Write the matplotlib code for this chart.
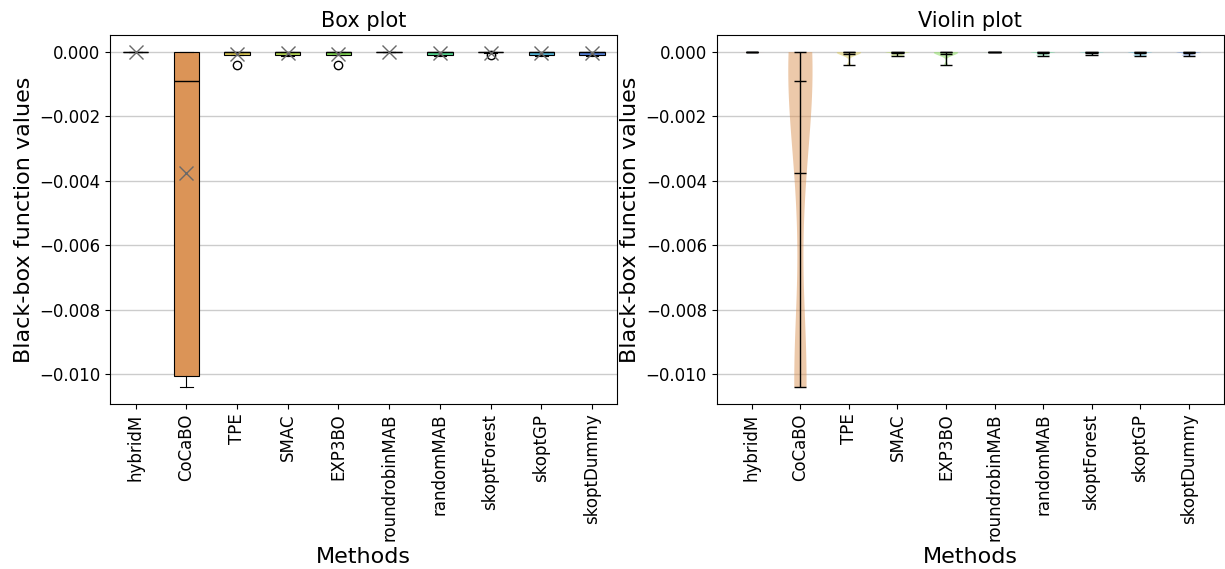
import matplotlib
matplotlib.use("Agg")
import matplotlib.pyplot as plt
import seaborn as sns

methods = ["hybridM", "CoCaBO", "TPE", "SMAC", "EXP3BO", "roundrobinMAB",
           "randomMAB", "skoptForest", "skoptGP", "skoptDummy"]

# black-box values per method
hybridM = [0.0, -0.000001, -0.000002, 0.0, -0.000001, -0.000003, -0.000001, -0.000002]
CoCaBO = [-0.0104, -0.0103, -0.0102, -0.01005, -0.0038, -0.00247, -0.0009,
          -0.0004, -0.0001, 0.0, 0.0, 0.0, 0.0]
TPE = [0.0, 0.0, 0.0, 0.0, 0.0, -0.00004, -0.0001, -0.0001, -0.0004]
SMAC = [0.0, 0.0, 0.0, 0.0, 0.0, -0.00005, -0.0001, -0.0001, -0.00012]
EXP3BO = [0.0, 0.0, 0.0, 0.0, 0.0, -0.00005, -0.0001, -0.0001, -0.0004]
roundrobinMAB = [0.0, -0.000002, -0.000001, -0.000003, 0.0, -0.000002, -0.000001, -0.000004]
randomMAB = [0.0, 0.0, 0.0, 0.0, 0.0, -0.00004, -0.0001, -0.0001, -0.00011]
skoptForest = [0.0, 0.0, 0.0, 0.0, 0.0, -0.000005, -0.00001, -0.00002, -0.0001]
skoptGP = [0.0, 0.0, 0.0, 0.0, 0.0, -0.00005, -0.0001, -0.0001, -0.00012]
skoptDummy = [0.0, 0.0, 0.0, 0.0, 0.0, -0.00004, -0.0001, -0.0001, -0.00011]

data = [hybridM, CoCaBO, TPE, SMAC, EXP3BO, roundrobinMAB,
        randomMAB, skoptForest, skoptGP, skoptDummy]

colors = sns.color_palette("hls", 15)[:len(methods)]

fig, (ax1, ax2) = plt.subplots(1, 2, figsize=(12.25, 5.69), dpi=100)
fig.subplots_adjust(left=0.09, right=0.999, top=0.938, bottom=0.29, wspace=0.196)

# box plot
bp = ax1.boxplot(data, patch_artist=True, showmeans=True, widths=0.5,
                 boxprops=dict(linewidth=0.8),
                 whiskerprops=dict(linewidth=0.8),
                 capprops=dict(linewidth=0.8),
                 medianprops=dict(color="black", linewidth=1),
                 meanprops=dict(marker="x", markeredgecolor="dimgray",
                                markersize=10, markeredgewidth=1),
                 flierprops=dict(marker="o", markerfacecolor="none",
                                 markeredgecolor="black", markersize=6))
for patch, c in zip(bp["boxes"], colors):
    patch.set_facecolor(c)
    patch.set_edgecolor("black")
ax1.set_title("Box plot", fontsize=15)

# violin plot
vp = ax2.violinplot(data, showmeans=True, showmedians=True, showextrema=True,
                    bw_method=0.5)
for body, c in zip(vp["bodies"], colors):
    body.set_facecolor(c)
    body.set_edgecolor("none")
    body.set_alpha(0.5)
for key in ["cmeans", "cmedians", "cmins", "cmaxes", "cbars"]:
    vp[key].set_color("black")
    vp[key].set_linewidth(1)
ax2.set_title("Violin plot", fontsize=15)

for ax in (ax1, ax2):
    ax.set_xticks(range(1, len(methods) + 1))
    ax.set_xticklabels(methods, rotation=90, fontsize=12)
    ax.tick_params(axis="y", labelsize=12)
    ax.yaxis.grid(True, color="#cccccc", linewidth=1)
    ax.set_axisbelow(True)
    ax.set_xlabel("Methods", fontsize=16)
    ax.set_ylabel("Black-box function values", fontsize=16)
    ax.set_ylim(-0.01092, 0.00052)

fig.savefig("out.png")
